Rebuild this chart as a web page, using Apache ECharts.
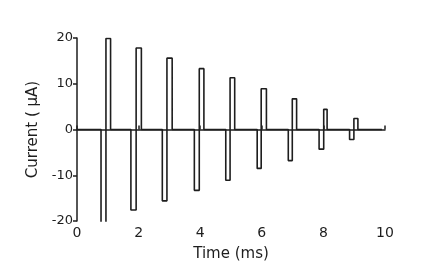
<!DOCTYPE html>
<html>
<head>
<meta charset="utf-8">
<script src="https://cdn.jsdelivr.net/npm/echarts@6/dist/echarts.min.js"></script>
<style>html,body{margin:0;padding:0;background:#fff;}#c{width:435px;height:267px;}</style>
</head>
<body>
<div id="c"></div>
<script>
// Pulse timing (ms) and amplitudes (µA)
const negStart = [0.78, 1.75, 2.77, 3.81, 4.83, 5.85, 6.86, 7.86, 8.85];
const phaseSwitch = [0.94, 1.92, 2.92, 3.97, 4.97, 5.98, 6.99, 8.01, 8.99];
const posEnd = [1.09, 2.09, 3.09, 4.12, 5.12, 6.15, 7.13, 8.12, 9.12];
const negAmp = [-22, -17.6, -15.6, -13.3, -11.1, -8.5, -6.8, -4.3, -2.2];
const posAmp = [19.9, 17.8, 15.6, 13.3, 11.3, 8.9, 6.7, 4.4, 2.4];
const traceStart = 0;
const traceEnd = 9.9;
const xTicks = [0, 2, 4, 6, 8, 10];
const yTicks = [-20, -10, 0, 10, 20];

const pts = [[traceStart, 0]];
for (let i = 0; i < negStart.length; i++) {
  pts.push([negStart[i], 0], [negStart[i], negAmp[i]], [phaseSwitch[i], negAmp[i]],
           [phaseSwitch[i], posAmp[i]], [posEnd[i], posAmp[i]], [posEnd[i], 0]);
}
pts.push([traceEnd, 0]);

const ink = '#1e1e1e';
const font = 'DejaVu Sans';
const chart = echarts.init(document.getElementById('c'), null, {renderer: 'canvas'});
chart.setOption({
  animation: false,
  backgroundColor: '#fff',
  grid: {left: 77, right: 50, top: 38, bottom: 46},
  xAxis: {
    type: 'value', min: xTicks[0], max: xTicks[xTicks.length - 1], interval: 2,
    name: 'Time (ms)', nameLocation: 'middle', nameGap: 26,
    nameTextStyle: {color: ink, fontFamily: font, fontSize: 15},
    axisLine: {lineStyle: {color: ink, width: 1.5}},
    axisTick: {inside: true, length: 4, lineStyle: {color: ink, width: 1.5}},
    axisLabel: {color: ink, fontFamily: font, fontSize: 14, margin: 5},
    splitLine: {show: false}
  },
  yAxis: {
    type: 'value', min: yTicks[0], max: yTicks[yTicks.length - 1], interval: 10,
    name: 'Current ( \u00b5A)', nameLocation: 'middle', nameGap: 31,
    nameTextStyle: {color: ink, fontFamily: font, fontSize: 15},
    axisLine: {lineStyle: {color: ink, width: 1.5}},
    axisTick: {length: 4, lineStyle: {color: ink, width: 1.5}},
    axisLabel: {color: ink, fontFamily: font, fontSize: 13, margin: 4},
    splitLine: {show: false}
  },
  series: [{
    type: 'line', data: pts, showSymbol: false, clip: true,
    lineStyle: {color: ink, width: 1.6}
  }]
});
</script>
</body>
</html>
